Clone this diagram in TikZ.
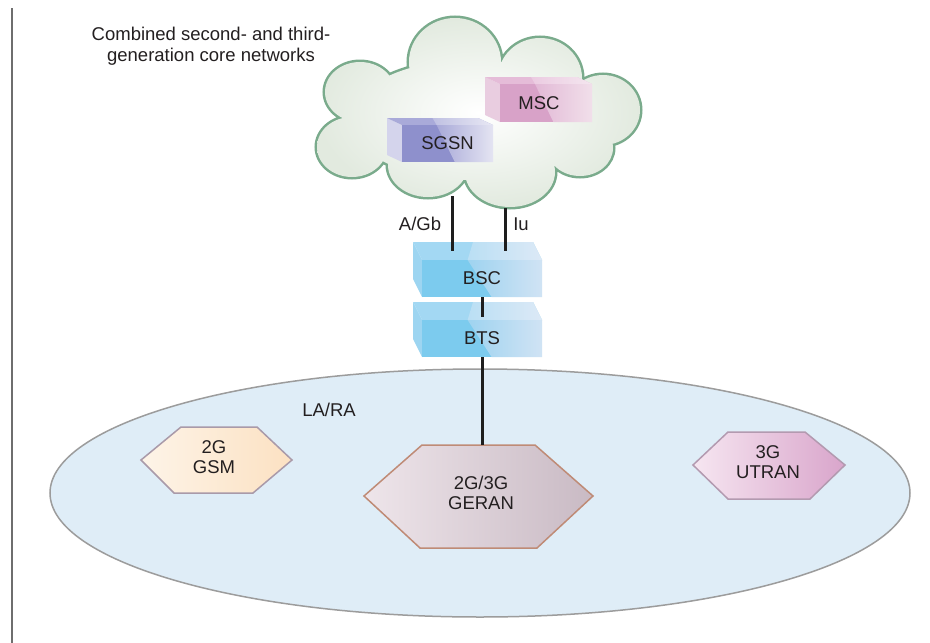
\documentclass[tikz,border=0pt]{standalone}
\usepackage{fontspec}
\setmainfont{Liberation Sans}
\definecolor{txt}{HTML}{231F20}
\definecolor{frame}{HTML}{6E6E6E}
\definecolor{cloudline}{HTML}{7AAB8C}
\definecolor{cloudfill}{HTML}{E2EADF}
\definecolor{ellfill}{HTML}{DFEDF7}
\definecolor{ellline}{HTML}{9C9C9C}
\definecolor{connline}{HTML}{1E1E1E}
% MSC colours
\definecolor{mscside}{HTML}{E9CDE0}
\definecolor{mscdark}{HTML}{D8A2C8}
\definecolor{mscmid}{HTML}{E2B9D6}
\definecolor{msclight}{HTML}{F1DFEA}
\definecolor{msctopdark}{HTML}{E5BCD8}
\definecolor{msctopmid}{HTML}{EBCBE1}
\definecolor{msctoplight}{HTML}{F4E6EF}
% SGSN colours
\definecolor{sgside}{HTML}{D4D4EC}
\definecolor{sgdark}{HTML}{8E90CC}
\definecolor{sgmid}{HTML}{A8A9D8}
\definecolor{sglight}{HTML}{E4E4F2}
\definecolor{sgtopdark}{HTML}{A9AAD9}
\definecolor{sgtopmid}{HTML}{BFC0E2}
\definecolor{sgtoplight}{HTML}{E8E8F4}
% blue (BSC/BTS)
\definecolor{bside}{HTML}{9DD5F1}
\definecolor{bdark}{HTML}{7CCBEE}
\definecolor{bmid}{HTML}{9ED3F0}
\definecolor{blight}{HTML}{D0E3F4}
\definecolor{btopdark}{HTML}{A3D8F3}
\definecolor{btopmid}{HTML}{BADFF4}
\definecolor{btoplight}{HTML}{DCE9F6}
% hexagons
\definecolor{gsmleft}{HTML}{FDF4E8}
\definecolor{gsmright}{HTML}{FCE1C2}
\definecolor{gsmline}{HTML}{A99AA9}
\definecolor{geranleft}{HTML}{EEE5EA}
\definecolor{geranright}{HTML}{C9BAC4}
\definecolor{geranline}{HTML}{BF8B76}
\definecolor{utranleft}{HTML}{F6E6F1}
\definecolor{utranright}{HTML}{D9A5CB}
\definecolor{utranline}{HTML}{B39AB0}

% #1 x,#2 y of front top-left, #3 w, #4 h, #5 dx, #6 dy, #7 colour prefix, #8 name, #9 text
\newcommand\prismbox[9]{%
  \fill[#7side] (#1-#5,#2-#6) -- (#1,#2) -- (#1,#2+#4) -- (#1-#5,#2+#4-#6) -- cycle;
  \fill[#7topdark] (#1-#5,#2-#6) -- (#1+#3-#5,#2-#6) -- (#1+#3,#2) -- (#1,#2) -- cycle;
  \shade[left color=#7topmid, right color=#7toplight]
    (#1-#5+0.5*#3,#2-#6) -- (#1+#3-#5,#2-#6) -- (#1+#3,#2) -- (#1+0.38*#3,#2) -- cycle;
  \fill[#7dark] (#1,#2) rectangle (#1+#3,#2+#4);
  \shade[left color=#7mid, right color=#7light]
    (#1+0.38*#3,#2) -- (#1+#3,#2) -- (#1+#3,#2+#4) -- (#1+0.58*#3,#2+#4) -- cycle;
  \node[boxtext, minimum width=#3pt, minimum height=#4pt] (#8) at (#1+#3/2,#2+#4/2) {#9};
}

\newcommand\cloudshape{%
  (360,92) ellipse[x radius=35,y radius=30]
  (455,62) ellipse[x radius=46,y radius=44]
  (540,78) ellipse[x radius=42,y radius=40]
  (603,110) ellipse[x radius=37,y radius=35]
  (580,148) ellipse[x radius=33,y radius=28]
  (510,172) ellipse[x radius=45,y radius=35]
  (428,165) ellipse[x radius=40,y radius=32]
  (352,147) ellipse[x radius=35,y radius=30]
  (470,120) ellipse[x radius=120,y radius=60]}

\tikzset{
  every node/.style={font=\fontsize{18.5}{20.5}\selectfont, text=txt},
  boxtext/.style={inner sep=0pt},
  lbl/.style={inner sep=1pt, align=center},
  conn/.style={draw=connline, line width=3pt},
  hexa/.style={line width=1.5pt, line join=miter}
}

\begin{document}
\begin{tikzpicture}[x=1pt,y=-1pt]
\useasboundingbox (0,0) rectangle (930,643);
\fill[white] (0,0) rectangle (930,643);

% left rule
\draw[frame, line width=2.5pt] (12,8) -- (12,643);

% LA/RA area
\filldraw[fill=ellfill, draw=ellline, line width=1.5pt] (480,493) ellipse[x radius=430, y radius=124];
\node[lbl] (lara) at (329,410) {LA/RA};

% title
\node[lbl] (title) at (211,46) {Combined second- and third-\\generation core networks};

% cloud
\draw[cloudline, line width=5pt] \cloudshape;
\shade[inner color=white, outer color=cloudfill] \cloudshape;

% core boxes
\prismbox{500}{84}{92}{38}{15}{7}{msc}{msc}{\hspace*{-14pt}MSC}
\prismbox{402}{125}{91}{37}{15}{7}{sg}{sgsn}{SGSN}

% BSC / BTS
\prismbox{422}{260}{120}{37}{9}{18}{b}{bsc}{BSC}
\prismbox{422}{320}{120}{37}{9}{18}{b}{bts}{BTS}

% hexagons
\shadedraw[hexa, left color=gsmleft, right color=gsmright, draw=gsmline]
  (141,460) -- (181,427) -- (257,427) -- (292,460) -- (253,493) -- (174,493) -- cycle;
\node[lbl] (gsm) at (214,457) {2G\\GSM};

\shadedraw[hexa, left color=geranleft, right color=geranright, draw=geranline]
  (364,496) -- (422,445) -- (535,445) -- (593,496) -- (537,548) -- (420,548) -- cycle;
\coordinate (gerantop) at (479,445);
\node[lbl] (geran) at (481,493) {2G/3G\\GERAN};

\shadedraw[hexa, left color=utranleft, right color=utranright, draw=utranline]
  (693,465) -- (728,432) -- (805,432) -- (845,465) -- (810,499) -- (728,499) -- cycle;
\node[lbl] (utran) at (768,462) {3G\\UTRAN};

% connectors
\coordinate (agbup) at (452,196);
\coordinate (iuup) at (505,208);
\draw[conn] (agbup) -- ([yshift=9pt]agbup |- bsc.north);
\draw[conn] (iuup) -- ([yshift=9pt]iuup |- bsc.north);
\draw[conn] (bsc.south) -- ([yshift=3pt]bts.north);
\draw[conn] (bts.south) -- (bts.south |- gerantop);

\node[lbl] (agb) at (420,224) {A/Gb};
\node[lbl] (iu) at (521,224) {Iu};
\end{tikzpicture}
\end{document}
